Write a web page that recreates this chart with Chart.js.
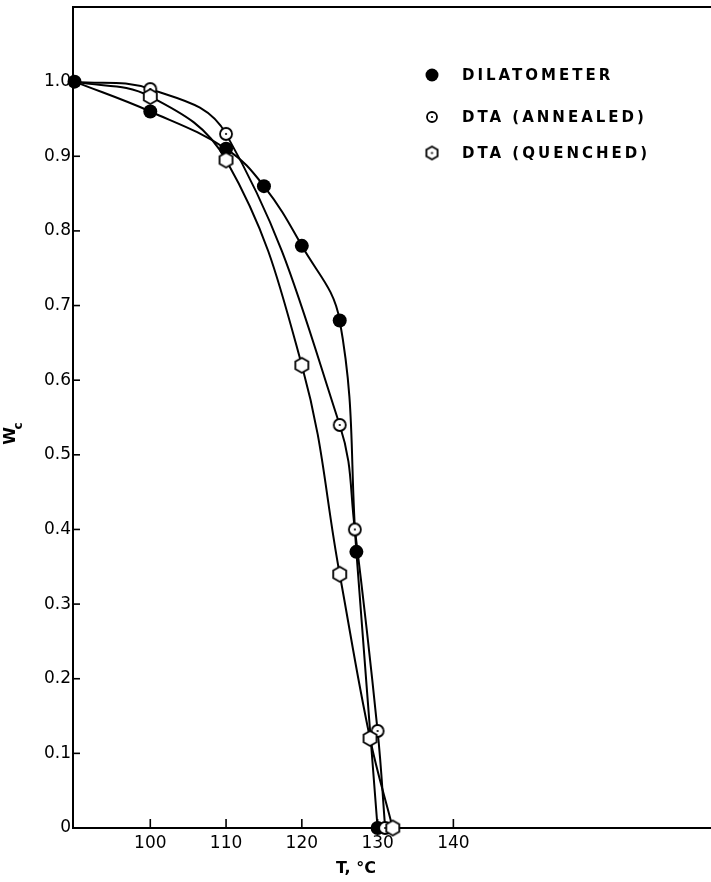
<!DOCTYPE html>
<html>
<head>
<meta charset="utf-8">
<script src="https://cdn.jsdelivr.net/npm/chart.js@4.4.1/dist/chart.umd.min.js"></script>
<style>
  html, body { margin: 0; padding: 0; background: #fff; overflow: hidden; }
  #wrap { width: 711px; height: 882px; }
  canvas { display: block; }
</style>
</head>
<body>
<div id="wrap"><canvas id="chart"></canvas></div>
<script>
// values
const dilT = [90, 100, 110, 115, 120, 125, 127.2, 130];
const dilW = [1.0, 0.96, 0.91, 0.86, 0.78, 0.68, 0.37, 0];
const annT = [90, 100, 110, 125, 127, 130, 131];
const annW = [1.0, 0.99, 0.93, 0.54, 0.40, 0.13, 0];
const queT = [90, 100, 110, 120, 125, 129, 132];
const queW = [1.0, 0.98, 0.895, 0.62, 0.34, 0.12, 0];

const xTicks = [100, 110, 120, 130, 140];
const yTicks = [0, 0.1, 0.2, 0.3, 0.4, 0.5, 0.6, 0.7, 0.8, 0.9, 1.0];
const legendNames = ['DILATOMETER', 'DTA (ANNEALED)', 'DTA (QUENCHED)'];

const FONT = '"DejaVu Sans", sans-serif';

function toPoints(xs, ys) {
    return xs.map((x, i) => ({ x: x, y: ys[i] }));
}

function circleMarker(r, dot) {
    const c = document.createElement('canvas');
    const s = Math.ceil(r * 2 + 4);
    c.width = s; c.height = s;
    const g = c.getContext('2d');
    g.beginPath();
    g.arc(s / 2, s / 2, r, 0, Math.PI * 2);
    g.fillStyle = '#fff';
    g.fill();
    g.lineWidth = 1.8;
    g.strokeStyle = '#000';
    g.stroke();
    if (dot) {
        g.beginPath();
        g.arc(s / 2, s / 2, 1.1, 0, Math.PI * 2);
        g.fillStyle = '#000';
        g.fill();
    }
    return c;
}

function hexMarker(r, dot) {
    const c = document.createElement('canvas');
    const s = Math.ceil(r * 2 + 4);
    c.width = s; c.height = s;
    const g = c.getContext('2d');
    g.beginPath();
    for (let k = 0; k < 6; k++) {
        const a = -Math.PI / 2 + k * Math.PI / 3;
        const px = s / 2 + r * Math.cos(a), py = s / 2 + r * Math.sin(a);
        if (k === 0) g.moveTo(px, py); else g.lineTo(px, py);
    }
    g.closePath();
    g.fillStyle = '#fff';
    g.fill();
    g.lineWidth = 1.8;
    g.strokeStyle = '#000';
    g.stroke();
    if (dot) {
        g.beginPath();
        g.arc(s / 2, s / 2, 1.1, 0, Math.PI * 2);
        g.fillStyle = '#000';
        g.fill();
    }
    return c;
}

const annMark = circleMarker(6, true);
const queMark = hexMarker(7.5, false);
const annLegend = circleMarker(5, true);
const queLegend = hexMarker(6.5, true);

// hide the shared starting point on the open-symbol curves
const hideFirst = n => Array.from({ length: n }, (_, i) => i === 0 ? 0 : 7);

const figurePlugin = {
    id: 'figure',
    afterDraw(chart) {
        const ctx = chart.ctx;
        const a = chart.chartArea;
        const xs = chart.scales.x, ys = chart.scales.y;
        ctx.save();
        // the figure has no right-hand frame line
        ctx.fillStyle = '#fff';
        ctx.fillRect(a.right - 2, a.top + 2, 4, a.bottom - a.top - 3);
        ctx.strokeStyle = '#000';
        ctx.lineWidth = 2;
        // top frame line
        ctx.beginPath();
        ctx.moveTo(a.left - 1, a.top);
        ctx.lineTo(a.right, a.top);
        ctx.stroke();
        // inward ticks
        ctx.lineWidth = 1.6;
        yTicks.forEach(v => {
            if (v === 0) return;
            const y = ys.getPixelForValue(v);
            ctx.beginPath();
            ctx.moveTo(a.left, y);
            ctx.lineTo(a.left + 7, y);
            ctx.stroke();
        });
        xTicks.forEach(v => {
            const x = xs.getPixelForValue(v);
            ctx.beginPath();
            ctx.moveTo(x, a.bottom);
            ctx.lineTo(x, a.bottom - 9);
            ctx.stroke();
        });

        // legend
        ctx.fillStyle = '#000';
        ctx.font = 'bold 15px ' + FONT;
        ctx.textAlign = 'left';
        ctx.textBaseline = 'middle';
        ctx.letterSpacing = '3px';
        const rows = [75, 117, 153];
        ctx.beginPath();
        ctx.arc(432, rows[0], 6.5, 0, Math.PI * 2);
        ctx.fill();
        ctx.drawImage(annLegend, 432 - annLegend.width / 2, rows[1] - annLegend.height / 2);
        ctx.drawImage(queLegend, 432 - queLegend.width / 2, rows[2] - queLegend.height / 2);
        legendNames.forEach((t, i) => ctx.fillText(t, 462, rows[i] + 1));
        ctx.letterSpacing = '0px';

        // axis titles
        ctx.font = 'bold 16px ' + FONT;
        ctx.textAlign = 'center';
        ctx.fillText('T, °C', 356, 869);
        ctx.save();
        ctx.translate(11, 436);
        ctx.rotate(-Math.PI / 2);
        ctx.font = 'bold 16px ' + FONT;
        ctx.fillText('W', 0, 0);
        ctx.font = 'bold 12px ' + FONT;
        ctx.fillText('c', 10, 8);
        ctx.restore();
        ctx.restore();
    }
};

const lineStyle = {
    showLine: true,
    tension: 0.4,
    borderColor: '#000',
    borderWidth: 2,
    clip: false
};

// drop the half-label margins so the plot frame sits where the figure has it
const noScalePadding = s => {
    s.paddingTop = 0; s.paddingBottom = 0; s.paddingLeft = 0; s.paddingRight = 0;
};

new Chart(document.getElementById('chart'), {
    type: 'scatter',
    data: {
        datasets: [
            Object.assign({
                label: legendNames[2],
                data: toPoints(queT, queW),
                pointStyle: queMark,
                pointRadius: hideFirst(queT.length)
            }, lineStyle),
            Object.assign({
                label: legendNames[1],
                data: toPoints(annT, annW),
                pointStyle: annMark,
                pointRadius: hideFirst(annT.length)
            }, lineStyle),
            Object.assign({
                label: legendNames[0],
                data: toPoints(dilT, dilW),
                backgroundColor: '#000',
                pointStyle: 'circle',
                pointRadius: 7,
                pointBorderWidth: 0
            }, lineStyle)
        ]
    },
    options: {
        responsive: true,
        maintainAspectRatio: false,
        animation: false,
        layout: { autoPadding: false, padding: { top: 7, right: 0, left: 0, bottom: 0 } },
        plugins: { legend: { display: false }, tooltip: { enabled: false } },
        scales: {
            x: {
                type: 'linear',
                min: 89.8,
                max: 174,
                grid: { display: false, drawTicks: false },
                border: { display: true, color: '#000', width: 2 },
                ticks: { color: '#000', font: { family: FONT, size: 17 }, padding: 5, maxRotation: 0 },
                afterBuildTicks: s => { s.ticks = xTicks.map(v => ({ value: v })); },
                afterFit: s => { s.height = 54; noScalePadding(s); }
            },
            y: {
                type: 'linear',
                min: 0,
                max: 1.1,
                grid: { display: false, drawTicks: false },
                border: { display: true, color: '#000', width: 2 },
                ticks: {
                    color: '#000',
                    font: { family: FONT, size: 17 },
                    padding: 2,
                    callback: v => v === 0 ? '0' : v.toFixed(1)
                },
                afterBuildTicks: s => { s.ticks = yTicks.map(v => ({ value: v })); },
                afterFit: s => { s.width = 73; noScalePadding(s); }
            }
        }
    },
    plugins: [figurePlugin]
});
</script>
</body>
</html>
